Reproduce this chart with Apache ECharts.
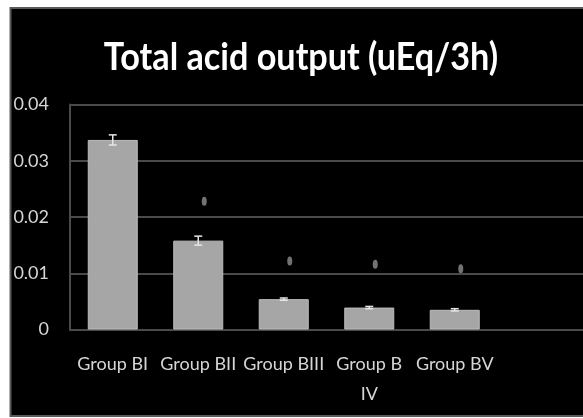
<!DOCTYPE html>
<html>
<head>
<meta charset="utf-8">
<script src="https://cdn.jsdelivr.net/npm/echarts@6/dist/echarts.min.js"></script>
<style>
  html, body { margin: 0; padding: 0; background: #fff; }
  #chart { width: 583px; height: 418px; }
</style>
</head>
<body>
<div id="chart"></div>
<script>
// Group labels along the x axis (the last slot is an empty trailing category)
const categories = ['Group BI', 'Group BII', 'Group BIII', 'Group B\nIV', 'Group BV', ''];
// Mean total acid output per group (uEq/3h)
const means = [0.0337, 0.0158, 0.0054, 0.0039, 0.0035];
// Error bar half-lengths
const errors = [0.0009, 0.0008, 0.0002, 0.0002, 0.0002];
// Significance markers drawn above groups
const markers = [null, 0.0228, 0.0122, 0.0116, 0.0108];
// Y-axis ticks
const yTicks = [0, 0.01, 0.02, 0.03, 0.04];

const chart = echarts.init(document.getElementById('chart'), null, { renderer: 'canvas' });

const labelFont = 'Lato';
const gridColor = '#4a4a4a';

const option = {
  backgroundColor: '#ffffff',
  animation: false,
  graphic: {
    elements: [
      {
        type: 'rect', z: -100, silent: true,
        shape: { x: 10.5, y: 8, width: 585, height: 408 },
        style: { fill: '#000000', stroke: '#5a5a5a', lineWidth: 2 }
      },
      {
        type: 'text', z: 100, silent: true,
        x: 301, y: 58, scaleX: 0.9,
        style: {
          text: 'Total acid output (uEq/3h)',
          fill: '#ffffff',
          font: 'bold 38px Lato',
          textAlign: 'center',
          textVerticalAlign: 'middle'
        }
      }
    ]
  },
  grid: { left: 70, top: 104.5, width: 521, height: 225, containLabel: false },
  xAxis: {
    type: 'category',
    data: categories,
    axisLine: { show: true, lineStyle: { color: gridColor, width: 2 } },
    axisTick: { show: false },
    axisLabel: {
      color: '#d6d6d6', fontFamily: labelFont, fontSize: 18, margin: 20,
      lineHeight: 30, interval: 0
    },
    splitLine: { show: false }
  },
  yAxis: {
    type: 'value',
    min: yTicks[0],
    max: yTicks[yTicks.length - 1],
    interval: 0.01,
    axisLine: { show: true, lineStyle: { color: gridColor, width: 2 } },
    axisTick: { show: false },
    axisLabel: {
      color: '#d6d6d6', fontFamily: labelFont, fontSize: 18, margin: 21,
      formatter: v => (v === 0 ? '0' : v.toFixed(2))
    },
    splitLine: { show: true, lineStyle: { color: gridColor, width: 2 } }
  },
  series: [
    {
      type: 'bar',
      data: means,
      barWidth: 50,
      itemStyle: { color: '#a6a6a6', borderColor: '#bdbdbd', borderWidth: 1 },
      z: 2
    },
    {
      type: 'custom',
      z: 3,
      data: means.map((m, i) => [i, m - errors[i], m + errors[i]]),
      renderItem: (params, api) => {
        const lo = api.coord([api.value(0), api.value(1)]);
        const hi = api.coord([api.value(0), api.value(2)]);
        const half = 4;
        const st = { stroke: '#e6e6e6', lineWidth: 1.5 };
        return {
          type: 'group',
          children: [
            { type: 'line', shape: { x1: hi[0], y1: hi[1], x2: lo[0], y2: lo[1] }, style: st },
            { type: 'line', shape: { x1: hi[0] - half, y1: hi[1], x2: hi[0] + half, y2: hi[1] }, style: st },
            { type: 'line', shape: { x1: lo[0] - half, y1: lo[1], x2: lo[0] + half, y2: lo[1] }, style: st }
          ]
        };
      }
    },
    {
      type: 'scatter',
      z: 4,
      data: markers.map((v, i) => (v == null ? [i, null] : [i, v])),
      symbol: 'circle',
      symbolSize: [5, 9],
      symbolOffset: [6, 0],
      itemStyle: { color: '#8e8e8e' }
    }
  ]
};

chart.setOption(option);
</script>
</body>
</html>
